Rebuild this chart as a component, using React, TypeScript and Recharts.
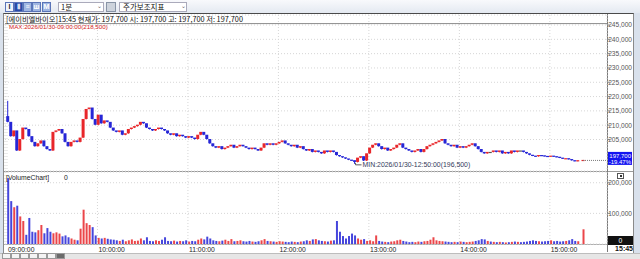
import React from 'react';
import {
  ComposedChart,
  Bar,
  XAxis,
  YAxis,
  CartesianGrid,
  ReferenceLine,
  ReferenceDot,
  Cell,
} from 'recharts';

const stockName = '에이비엘바이오';
const tradeDate = '2026/01/30';
const nowTime = '15:45';
const prevClose = 245500;
const firstOpen = 213000;
const maxPrice = 218500;
const maxTime = '09:00:00';
const minPrice = 196500;
const minTime = '12:50:00';
const changePct = '-19.47%';

// 2분 단위 종가 09:00 ~ 15:18
const closes = [
  211000, 206000, 208000, 201000, 205000, 209000, 208500, 206000, 204000, 202500,
  203500, 204500, 202500, 201500, 201000, 207500, 208000, 208500, 207000, 204000,
  202500, 204000, 204500, 204000, 205500, 212000, 215500, 216000, 212000, 210000,
  213500, 210500, 211500, 211000, 209000, 208000, 207500, 208000, 206500, 207000,
  208500, 209000, 209500, 210000, 211000, 210500, 209000, 208500, 208000, 208500,
  209000, 208500, 208000, 207000, 206500, 207000, 206000, 206500, 206000, 205500,
  206000, 205500, 205000, 206500, 207500, 206500, 205000, 203500, 202500, 202000,
  202500, 201500, 202000, 202500, 203000, 202000, 202500, 203000, 202500, 202000,
  201500, 202000, 201500, 201000, 202000, 203500, 203000, 203500, 203000, 203500,
  204000, 204500, 203500, 203000, 202500, 203000, 202000, 202500, 201500, 201000,
  201500, 200500, 201000, 200500, 200000, 201000, 200500, 201000, 200500, 199400,
  199000, 198600, 198200, 197800, 197600, 197000, 198500, 199000, 197500, 200000,
  202000, 203000, 203500, 202500, 201500, 202000, 201000, 201500, 202000, 203000,
  203500, 202000, 201500, 201000, 200500, 201000, 201500, 200500, 201500, 202500,
  203000, 203500, 204000, 204500, 205000, 203500, 203000, 202500, 203000, 202000,
  202500, 202000, 202500, 203000, 203500, 202500, 201500, 200500, 200000, 200500,
  200500, 201000, 200500, 201000, 200000, 200500, 200000, 201000, 200500, 201000,
  201000, 200500, 200000, 199500, 199200, 199000, 199400, 199300, 199100, 199000,
  199200, 199000, 198800, 198500, 198200, 198300, 198000, 197600, 197400, 197600,
];
// 15:30 동시호가 체결
const auctionClose = 197700;
const auctionVolume = 48000;

// 거래량 (천주)
const volumes = [
  215, 140, 120, 125, 90, 75, 30, 85, 40, 38,
  45, 62, 35, 52, 40, 35, 38, 34, 25, 28,
  22, 18, 14, 12, 50, 112, 68, 62, 55, 28,
  20, 18, 20, 17, 15, 14, 12, 10, 14, 9,
  12, 15, 10, 11, 18, 12, 22, 10, 9, 12,
  10, 14, 22, 10, 9, 11, 8, 10, 9, 12,
  8, 10, 9, 14, 18, 15, 24, 18, 12, 10,
  9, 11, 14, 10, 16, 9, 10, 12, 9, 8,
  10, 8, 7, 9, 12, 16, 10, 9, 8, 7,
  9, 8, 7, 6, 8, 7, 6, 8, 9, 12,
  10, 15, 16, 12, 10, 9, 8, 11, 12, 75,
  40, 26, 18, 26, 34, 28, 18, 14, 16, 10,
  12, 9, 28, 10, 8, 7, 6, 8, 9, 12,
  14, 10, 8, 6, 7, 6, 8, 7, 9, 10,
  14, 22, 12, 10, 9, 8, 7, 6, 7, 6,
  8, 7, 6, 7, 8, 10, 12, 16, 15, 10,
  8, 7, 6, 7, 6, 5, 6, 7, 8, 7,
  6, 7, 8, 10, 12, 10, 9, 8, 9, 10,
  12, 9, 10, 8, 9, 10, 12, 16, 10, 9,
];

const hourTicks = [0, 60, 120, 180, 240, 300, 360];
const hourLabels = ['09:00:00', '10:00:00', '11:00:00', '12:00:00', '13:00:00', '14:00:00', '15:00:00'];
const priceTicks = [205000, 210000, 215000, 220000, 225000, 230000, 235000, 240000, 245000];
const volTicks = [100000, 200000];

const UP = '#e8262a';
const DOWN = '#2626d6';
const FLAT = '#555555';
const FONT = '"Liberation Sans", Arial, sans-serif';
const KFONT = '"Noto Sans CJK KR", "Liberation Sans", sans-serif';

const toMin = (s: string) => {
  const [h, m] = s.split(':').map(Number);
  return (h - 9) * 60 + m;
};
const maxIdx = Math.floor(toMin(maxTime) / 2);
const minIdx = Math.floor(toMin(minTime) / 2);

const candles = closes.map((c, i) => {
  const open = i === 0 ? firstOpen : closes[i - 1];
  let high = Math.max(open, c);
  let low = Math.min(open, c);
  if (i === maxIdx) high = maxPrice;
  if (i === minIdx) low = minPrice;
  return { t: i * 2 + 0.5, open, close: c, high, low, range: [low, high], vol: volumes[i] * 1000 };
});
const lastOpen = closes[closes.length - 1];
candles.push({
  t: 382,
  open: lastOpen,
  close: auctionClose,
  high: Math.max(lastOpen, auctionClose),
  low: Math.min(lastOpen, auctionClose),
  range: [Math.min(lastOpen, auctionClose), Math.max(lastOpen, auctionClose)],
  vol: auctionVolume,
});

const colorOf = (d: { open: number; close: number }) =>
  d.close > d.open ? UP : d.close < d.open ? DOWN : FLAT;

const fmt = (v: number) => v.toLocaleString('en-US');
const X_DOMAIN = [-1.3, 397.9];

const Candle = (props: any) => {
  const { x, y, width, height, payload } = props;
  if (x == null || y == null) return null;
  const { open, close, high, low } = payload;
  const color = colorOf(payload);
  const top = Math.min(y, y + (height || 0));
  const h = Math.abs(height || 0);
  const span = high - low;
  const py = (v: number) => (span > 0 ? top + ((high - v) / span) * h : top);
  const bTop = py(Math.max(open, close));
  const bBot = py(Math.min(open, close));
  const cx = x + width / 2;
  return (
    <g>
      {h > 0 && <line x1={cx} x2={cx} y1={top} y2={top + h} stroke={color} strokeWidth={1} />}
      <rect x={x} y={bTop - 0.5} width={width} height={Math.max(1.2, bBot - bTop)} fill={color} />
    </g>
  );
};

const PriceTick = ({ y, payload }: any) => (
  <text x={632} y={y + 2.4} textAnchor="end" fontSize={6.6} fill="#555" fontFamily={FONT}>
    {fmt(payload.value)}
  </text>
);

const TimeTick = ({ x, payload }: any) => {
  const i = hourTicks.indexOf(payload.value);
  return (
    <text x={x + 1} y={251.5} textAnchor="start" fontSize={6.8} fill="#222" fontFamily={FONT}>
      {hourLabels[i]}
    </text>
  );
};

const PriceTag = ({ viewBox }: any) => {
  const y = viewBox.y;
  return (
    <g>
      <rect x={608} y={y - 8.5} width={24} height={13} fill="#1414f0" />
      <text x={631} y={y - 2.8} textAnchor="end" fontSize={6} fill="#fff" fontFamily={FONT}>
        {fmt(auctionClose)}
      </text>
      <text x={631} y={y + 3.4} textAnchor="end" fontSize={6} fill="#fff" fontFamily={FONT}>
        {changePct}
      </text>
    </g>
  );
};

const MinMark = (props: any) => {
  const { cx, cy } = props;
  return (
    <g>
      <polyline points={`${cx + 1},${cy - 1} ${cx + 1},${cy + 1} ${cx + 7},${cy + 1}`} fill="none" stroke="#333" strokeWidth={0.8} />
      <text x={cx + 8} y={cy + 3.5} fontSize={6.9} fill="#343a5a" fontFamily={FONT}>
        {`MIN:${tradeDate}-${minTime}(${fmt(minPrice)})`}
      </text>
    </g>
  );
};

const abs = (l: number, t: number, w: number, h: number, extra: React.CSSProperties = {}): React.CSSProperties => ({
  position: 'absolute',
  left: l,
  top: t,
  width: w,
  height: h,
  boxSizing: 'border-box',
  ...extra,
});

const toolButtons = [
  { x: 5, bg: '#eef3fb', fg: '#223', label: 'I' },
  { x: 14, bg: '#2a4aa8', fg: '#fff', label: 'Ⅱ' },
  { x: 23, bg: '#9fb6e2', fg: '#fff', label: '≡' },
  { x: 32, bg: '#9fb6e2', fg: '#fff', label: 'ш' },
  { x: 42, bg: '#9fb6e2', fg: '#fff', label: 'M' },
];

export default function App() {
  return (
    <div style={{ position: 'relative', width: 640, height: 259, background: '#d9e1ec', overflow: 'hidden', fontFamily: FONT }}>
      <style>{'body{margin:0}'}</style>

      {/* toolbar */}
      <div style={abs(0, 0, 640, 13, { background: 'linear-gradient(#f8f9fc,#e4e9f1)' })} />
      {toolButtons.map((b) => (
        <div
          key={b.x}
          style={abs(b.x, 2, 9, 10, {
            background: b.bg,
            border: '1px solid #5a74b8',
            color: b.fg,
            fontSize: 7,
            lineHeight: '8px',
            textAlign: 'center',
            fontWeight: 700,
          })}
        >
          {b.label}
        </div>
      ))}
      <div style={abs(58, 2, 46, 10, { background: '#fff', border: '1px solid #aab', fontFamily: KFONT, fontSize: 7.5, lineHeight: '8px', paddingLeft: 2, color: '#111' })}>
        1분
      </div>
      <div style={abs(97, 2, 6, 10, { fontSize: 6, lineHeight: '9px', color: '#666' })}>⌄</div>
      <div style={abs(106, 2, 10, 10, { background: '#cdd3dc', border: '1px solid #8894a6' })} />
      <div style={abs(119, 2, 68, 10, { background: '#fff', border: '1px solid #aab', fontFamily: KFONT, fontSize: 7.5, lineHeight: '8px', paddingLeft: 3, color: '#111' })}>
        주가보조지표
      </div>
      <div style={abs(181, 2, 6, 10, { fontSize: 6, lineHeight: '9px', color: '#666' })}>⌄</div>

      {/* chart frame */}
      <div style={abs(3, 13, 631, 240, { background: '#fff', borderTop: '1px solid #4a4a4a', borderLeft: '1px solid #8a8a8a', borderRight: '1px solid #8a8a8a' })} />
      <div style={abs(4, 171, 629, 1, { background: '#9a9a9a' })} />
      <div style={abs(607, 14, 1, 238, { background: '#7a7a7a' })} />
      <div style={abs(4, 244, 603, 1, { background: '#b0b0b0' })} />

      {/* price pane */}
      <div style={{ position: 'absolute', left: 0, top: 0 }}>
        <ComposedChart width={640} height={259} data={candles} margin={{ top: 15, right: 7, bottom: 88, left: 5 }}>
          <CartesianGrid stroke="#d6d6d6" strokeDasharray="1 2" />
          <XAxis dataKey="t" type="number" domain={X_DOMAIN} ticks={hourTicks} hide allowDataOverflow />
          <YAxis
            orientation="right"
            width={26}
            domain={[194000, 248500]}
            ticks={priceTicks}
            interval={0}
            allowDataOverflow
            axisLine={false}
            tickSize={3}
            tickLine={{ stroke: '#888' }}
            tick={<PriceTick />}
          />
          <ReferenceLine y={prevClose} stroke="#8c8c8c" strokeWidth={1} />
          <Bar dataKey="range" barSize={3} isAnimationActive={false} shape={<Candle />} />
          <ReferenceLine
            segment={[{ x: 382, y: auctionClose }, { x: 397.9, y: auctionClose }]}
            stroke="#777"
            strokeDasharray="1 1"
          />
          <ReferenceLine y={auctionClose} stroke="none" label={<PriceTag />} />
          <ReferenceDot x={minIdx * 2 + 0.5} y={minPrice} r={0} shape={<MinMark />} />
        </ComposedChart>
      </div>

      {/* volume pane */}
      <div style={{ position: 'absolute', left: 0, top: 0 }}>
        <ComposedChart width={640} height={259} data={candles} margin={{ top: 172, right: 7, bottom: 7, left: 5 }}>
          <CartesianGrid stroke="#d6d6d6" strokeDasharray="1 2" />
          <XAxis
            dataKey="t"
            type="number"
            domain={X_DOMAIN}
            ticks={hourTicks}
            interval={0}
            height={8}
            allowDataOverflow
            axisLine={false}
            tickLine={false}
            tick={<TimeTick />}
          />
          <YAxis
            orientation="right"
            width={26}
            domain={[0, 235000]}
            ticks={volTicks}
            interval={0}
            allowDataOverflow
            axisLine={false}
            tickSize={3}
            tickLine={{ stroke: '#888' }}
            tick={<PriceTick />}
          />
          <Bar dataKey="vol" barSize={2} isAnimationActive={false}>
            {candles.map((d, i) => (
              <Cell key={i} fill={colorOf(d) === FLAT ? DOWN : colorOf(d)} fillOpacity={0.85} />
            ))}
          </Bar>
        </ComposedChart>
      </div>

      {/* texts */}
      <div style={abs(6, 15, 400, 8, { fontFamily: KFONT, fontSize: 7.3, lineHeight: '8px', color: '#111', whiteSpace: 'nowrap' })}>
        {`[${stockName}]${nowTime} 현재가: ${fmt(auctionClose)} 시: ${fmt(auctionClose)} 고: ${fmt(auctionClose)} 저: ${fmt(auctionClose)}`}
      </div>
      <div style={abs(9, 23, 200, 7, { fontSize: 6.2, lineHeight: '7px', color: '#d42020', whiteSpace: 'nowrap' })}>
        {`MAX:${tradeDate}-${maxTime}(${fmt(maxPrice)})`}
      </div>
      <div style={abs(6, 173, 120, 9, { fontSize: 6.8, lineHeight: '9px', color: '#222', whiteSpace: 'nowrap' })}>
        [VolumeChart]
      </div>
      <div style={abs(64, 173, 10, 9, { fontSize: 6.8, lineHeight: '9px', color: '#222' })}>0</div>
      <div style={abs(617, 173, 7, 6, { border: '1px solid #555', background: '#fff' })}>
        <div style={abs(1.5, 1, 2, 2, { background: '#333' })} />
      </div>
      <div style={abs(608, 236, 25, 9, { background: '#111', color: '#fff', fontSize: 6.8, lineHeight: '9px', textAlign: 'center' })}>
        0
      </div>
      <div style={abs(611, 245, 22, 8, { fontSize: 7, lineHeight: '8px', color: '#111', fontWeight: 700, textAlign: 'right' })}>
        {nowTime}
      </div>

      {/* scroll bar */}
      <div style={abs(0, 253, 640, 6, { background: '#e6e6e6', borderTop: '1px solid #bdbdbd' })} />
      {[2, 11, 20, 29, 38, 47, 56].map((x, i) => (
        <div key={x} style={abs(x, 253, 9, 6, { background: i === 6 ? '#6b6b6b' : '#f4f4f4', border: '1px solid #9a9a9a' })} />
      ))}
    </div>
  );
}
